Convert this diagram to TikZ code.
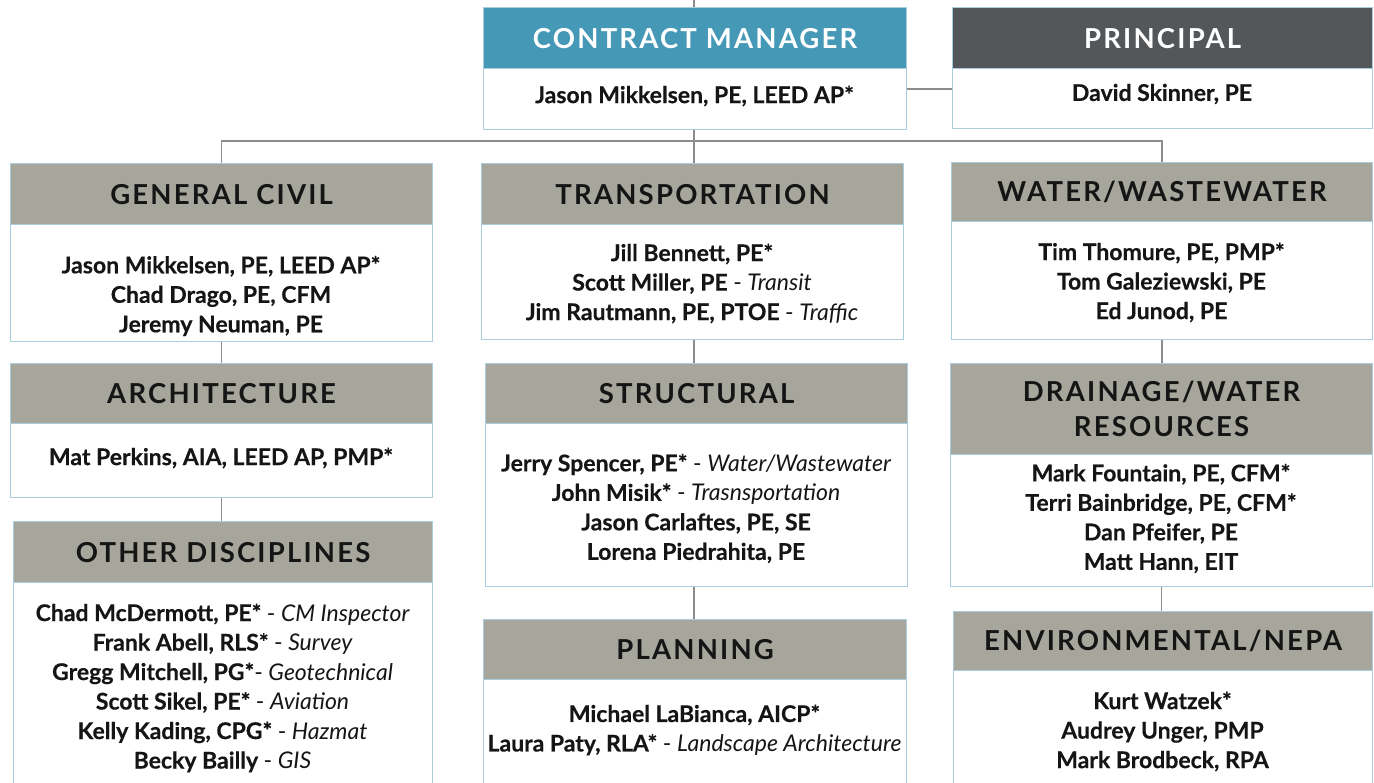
\documentclass[tikz,border=0pt]{standalone}
\usepackage{fontspec}
\setmainfont{Lato}[BoldFeatures={FakeBold=0.4}]
\newfontfamily\hdrfam[LetterSpace=8]{Lato}
\usetikzlibrary{calc}

\definecolor{hdrgray}{HTML}{A6A69C}
\definecolor{hdrblue}{HTML}{4599B6}
\definecolor{hdrdark}{HTML}{54575A}
\definecolor{boxline}{HTML}{A9CDDC}
\definecolor{conn}{HTML}{8C8C8C}
\definecolor{ink}{HTML}{151515}

\newcommand\rl[1]{{\mdseries\itshape #1}}
\newcommand\hfnt{\hdrfam\bfseries\fontsize{27.5}{35}\selectfont}
\newcommand\nfnt{\bfseries\fontsize{23}{29.5}\selectfont}

\tikzset{
  hdr/.style={draw=boxline, line width=1.2pt, fill=hdrgray, inner sep=0pt,
    anchor=north west, font=\hfnt, text=ink, align=center},
  bodybox/.style={draw=boxline, line width=1.2pt, fill=white, inner sep=0pt,
    anchor=north west},
  names/.style={align=center, font=\nfnt, text=ink, inner sep=0pt},
  link/.style={draw=conn, line width=1.3pt},
}

\begin{document}
\begin{tikzpicture}[x=1pt, y=-1pt]
\useasboundingbox (0,0) rectangle (1374,783);
\clip (0,0) rectangle (1374,783);
\fill[white] (0,0) rectangle (1374,783);

% top row
\node[bodybox, minimum width=423pt, minimum height=61pt] (cmb) at (483,68) {};
\node[hdr, fill=hdrblue, text=white, minimum width=423pt, minimum height=61pt] (cmh) at (483,7) {CONTRACT MANAGER};
\node[names] (cmt) at (694.5,96) {Jason Mikkelsen, PE, LEED AP*};

\node[bodybox, minimum width=420pt, minimum height=60pt] (prb) at (952,68) {};
\node[hdr, fill=hdrdark, text=white, minimum width=420pt, minimum height=61pt] (prh) at (952,7) {PRINCIPAL};
\node[names] (prt) at (1162,94) {David Skinner, PE};

% left column
\node[bodybox, minimum width=422pt, minimum height=117pt] (gcb) at (10,224) {};
\node[hdr, minimum width=422pt, minimum height=61pt] (gch) at (10,163) {GENERAL CIVIL};
\node[names] (gct) at (221,296) {Jason Mikkelsen, PE, LEED AP*\\Chad Drago, PE, CFM\\Jeremy Neuman, PE};

\node[bodybox, minimum width=422pt, minimum height=74pt] (arb) at (10,423) {};
\node[hdr, minimum width=422pt, minimum height=60pt] (arh) at (10,363) {ARCHITECTURE};
\node[names] (art) at (221,458) {Mat Perkins, AIA, LEED AP, PMP*};

\node[bodybox, minimum width=419pt, minimum height=210pt] (odb) at (13,582) {};
\node[hdr, minimum width=419pt, minimum height=61pt] (odh) at (13,521) {OTHER DISCIPLINES};
\node[names] (odt) at (222.5,688) {Chad McDermott, PE* {\mdseries -} \rl{CM Inspector}\\
Frank Abell, RLS* {\mdseries -} \rl{Survey}\\
Gregg Mitchell, PG*{\mdseries -} \rl{Geotechnical}\\
Scott Sikel, PE* {\mdseries -} \rl{Aviation}\\
Kelly Kading, CPG* {\mdseries -} \rl{Hazmat}\\
Becky Bailly {\mdseries -} \rl{GIS}};

% centre column
\node[bodybox, minimum width=422pt, minimum height=115pt] (trb) at (481,224) {};
\node[hdr, minimum width=422pt, minimum height=61pt] (trh) at (481,163) {TRANSPORTATION};
\node[names] (trt) at (692,283.5) {Jill Bennett, PE*\\
Scott Miller, PE {\mdseries -} \rl{Transit}\\
Jim Rautmann, PE, PTOE {\mdseries -} \rl{Traffic}};

\node[bodybox, minimum width=422pt, minimum height=163pt] (stb) at (485,423) {};
\node[hdr, minimum width=422pt, minimum height=60pt] (sth) at (485,363) {STRUCTURAL};
\node[names] (stt) at (696,508.5) {Jerry Spencer, PE* {\mdseries -} \rl{Water/Wastewater}\\
John Misik* {\mdseries -} \rl{Trasnsportation}\\
Jason Carlaftes, PE, SE\\
Lorena Piedrahita, PE};

\node[bodybox, minimum width=423pt, minimum height=120pt] (plb) at (483,679) {};
\node[hdr, minimum width=423pt, minimum height=60pt] (plh) at (483,619) {PLANNING};
\node[names] (plt) at (694.5,730) {Michael LaBianca, AICP*\\
Laura Paty, RLA* {\mdseries -} \rl{Landscape Architecture}};

% right column
\node[bodybox, minimum width=421pt, minimum height=118pt] (wwb) at (951,221) {};
\node[hdr, minimum width=421pt, minimum height=59pt] (wwh) at (951,162) {WATER/WASTEWATER};
\node[names] (wwt) at (1161.5,282.5) {Tim Thomure, PE, PMP*\\Tom Galeziewski, PE\\Ed Junod, PE};

\node[bodybox, minimum width=422pt, minimum height=132pt] (drb) at (950,454) {};
\node[hdr, minimum width=422pt, minimum height=91pt] (drh) at (950,363) {DRAINAGE/WATER\\RESOURCES};
\node[names] (drt) at (1161,518.5) {Mark Fountain, PE, CFM*\\
Terri Bainbridge, PE, CFM*\\
Dan Pfeifer, PE\\
Matt Hann, EIT};

\node[bodybox, minimum width=419pt, minimum height=130pt] (enb) at (953,670) {};
\node[hdr, minimum width=419pt, minimum height=59pt] (enh) at (953,611) {ENVIRONMENTAL/NEPA};
\node[names] (ent) at (1162.5,731.5) {Kurt Watzek*\\Audrey Unger, PMP\\Mark Brodbeck, RPA};

% connectors
\coordinate (topend) at (694,0);
\coordinate (lvl) at (0,89);
\coordinate (bus) at (0,141);
\draw[link] (topend) -- (topend |- cmh.north);
\draw[link] (cmb.east |- lvl) -- (prb.west |- lvl);
\draw[link] (topend |- cmb.south) -- (topend |- trh.north);
\draw[link] (gch.north) -- (gch.north |- bus) -- (wwh.north |- bus) -- (wwh.north);
\draw[link] (gcb.south) -- (gcb.south |- arh.north);
\draw[link] (arb.south) -- (arb.south |- odh.north);
\draw[link] (topend |- trb.south) -- (topend |- sth.north);
\draw[link] (topend |- stb.south) -- (topend |- plh.north);
\draw[link] (wwb.south) -- (wwb.south |- drh.north);
\draw[link] (drb.south) -- (drb.south |- enh.north);
\end{tikzpicture}
\end{document}
